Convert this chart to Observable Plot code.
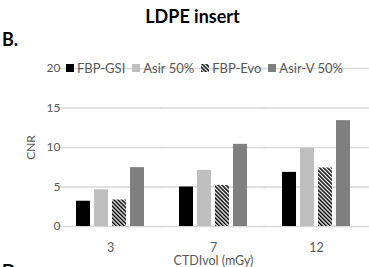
<!DOCTYPE html>
<html><head><meta charset="utf-8">
<script src="https://cdn.jsdelivr.net/npm/d3@7"></script>
<script src="https://cdn.jsdelivr.net/npm/@observablehq/plot@0.6"></script>
<style>
html,body{margin:0;padding:0;background:#fff;overflow:hidden;width:369px;height:267px}
#wrap{position:relative;width:369px;height:267px;overflow:hidden;font-family:Lato,"Open Sans",sans-serif}
#wrap > svg{position:absolute;left:0;top:0}
.title{position:absolute;left:0;width:385px;text-align:center;top:5px;font-size:18px;font-weight:bold;color:#000}
.panel{position:absolute;left:2px;font-size:18px;font-weight:bold;color:#000}
.legend{position:absolute;left:66px;top:60px;display:flex;align-items:center;font-size:13px;color:#595959;white-space:nowrap}
.legend .item{display:flex;align-items:center;margin-right:7px}
.legend .sw{width:8px;height:8px;margin-right:3px}
</style></head><body><div id="wrap"></div>
<script>
const doses = ["3", "7", "12"];
const series = ["FBP-GSI", "Asir 50%", "FBP-Evo", "Asir-V 50%"];
const fbpGsi = [3.2, 5.0, 6.85];
const asir50 = [4.65, 7.1, 9.9];
const fbpEvo = [3.35, 5.2, 7.4];
const asirV50 = [7.45, 10.4, 13.4];
const yTicks = [0, 5, 10, 15, 20];
const colors = ["#000000", "#bfbfbf", "url(#hatch)", "#7f7f7f"];

const values = [fbpGsi, asir50, fbpEvo, asirV50];
const data = doses.flatMap((d, i) => series.map((s, j) => ({dose: d, series: s, value: values[j][i]})));

const wrap = document.getElementById("wrap");
const chart = Plot.plot({
  width: 369, height: 267,
  marginTop: 68, marginBottom: 41, marginLeft: 58, marginRight: 1,
  style: {fontFamily: "Lato, 'Open Sans', sans-serif", fontSize: "12px", color: "#595959", background: "transparent"},
  fx: {domain: doses, paddingInner: 0.3, paddingOuter: 0.15, label: "CTDIvol (mGy)", axis: null},
  x: {domain: series, paddingInner: 0.2, paddingOuter: 0, axis: null},
  y: {domain: [0, 20], label: "CNR"},
  color: {domain: series, range: colors},
  marks: [
    Plot.ruleY(yTicks, {stroke: "#d9d9d9", strokeWidth: 1.3, insetLeft: -17, insetRight: -17}),
    Plot.barY(data, {fx: "dose", x: "series", y: "value", fill: "series"}),
    Plot.axisY(yTicks, {tickSize: 0, tickPadding: 14, label: "CNR", labelAnchor: "center", labelOffset: 48, labelArrow: "none", fill: "#595959"}),
    Plot.axisFx({anchor: "bottom", tickSize: 0, tickPadding: 17, label: "CTDIvol (mGy)", labelAnchor: "center", labelOffset: 38, labelArrow: "none", fill: "#595959", fontSize: 12.5})
  ]
});
const defs = `<defs><pattern id="hatch" patternUnits="userSpaceOnUse" width="2.8" height="2.8" patternTransform="rotate(-45)"><rect width="2.8" height="2.8" fill="#fff"/><rect width="1.5" height="2.8" fill="#000"/></pattern></defs>`;
chart.insertAdjacentHTML("afterbegin", defs);
wrap.appendChild(chart);

const t = document.createElement("div"); t.className = "title"; t.textContent = "LDPE insert"; wrap.appendChild(t);
const b = document.createElement("div"); b.className = "panel"; b.style.top = "28px"; b.textContent = "B."; wrap.appendChild(b);
const dd = document.createElement("div"); dd.className = "panel"; dd.style.top = "260px"; dd.textContent = "D."; wrap.appendChild(dd);

const lg = document.createElement("div"); lg.className = "legend";
series.forEach((s, j) => {
  const it = document.createElement("div"); it.className = "item";
  it.innerHTML = `<svg class="sw" width="8" height="8">${j === 2 ? defs.replace('id="hatch"', 'id="hatch2"') : ""}<rect width="8" height="8" fill="${j === 2 ? "url(#hatch2)" : colors[j]}"/></svg><span>${s}</span>`;
  lg.appendChild(it);
});
wrap.appendChild(lg);
</script></body></html>
